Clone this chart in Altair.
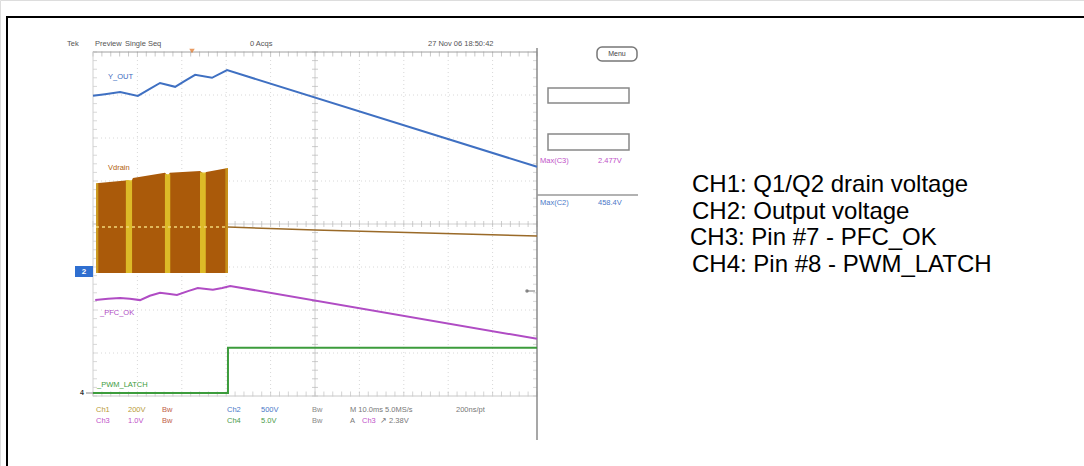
import altair as alt
import pandas as pd

# ---------------- data (time in ms, 10 ms/div ; vertical in screen divisions) ----------------
blue_t = [-50, -47.3, -43.9, -39.9, -37.2, -34.9, -31.5, -29.3, -27.0, -23.2, -19.8, 50]
blue_v = [2.98, 3.02, 3.07, 2.98, 3.14, 3.28, 3.19, 3.33, 3.47, 3.40, 3.58, 1.33]

mag_t = [-49.5, -46.6, -43.9, -41.7, -39.4, -37.2, -34.9, -32.7, -31.1, -28.6, -26.4, -24.5, -23.0, -20.9, -19.1, 50]
mag_v = [-1.77, -1.74, -1.72, -1.74, -1.77, -1.67, -1.60, -1.63, -1.65, -1.56, -1.49, -1.51, -1.53, -1.49, -1.44, -2.67]

green_t = [-50, -19.6, -19.6, 50]
green_v = [-3.93, -3.93, -2.88, -2.88]

block_t = [-49.3, -42.1, -41.4, -41.0, -33.8, -33.1, -32.7, -25.9, -25.0, -24.5, -19.6]
block_top = [0.95, 1.02, 0.98, 1.07, 1.19, 1.12, 1.19, 1.23, 1.16, 1.21, 1.30]
block_bottom = -1.14
streak_t0 = [-49.3, -42.6, -33.8, -25.9, -20.2]
streak_t1 = [-48.8, -41.2, -32.6, -24.6, -19.6]
streak_top = [0.95, 1.02, 1.16, 1.20, 1.30]
streak_op = [0.6, 0.9, 0.9, 0.9, 0.5]

brown_t = [-19.6, 0, 25, 50]
brown_v = [-0.07, -0.14, -0.21, -0.28]

trace_labels = ["Y_OUT", "Vdrain", "_PFC_OK", "_PWM_LATCH"]
header_texts = ["Tek", "Preview", "Single Seq", "0 Acqs", "27 Nov 06 18:50:42"]
meas_names = ["Max(C3)", "Max(C2)"]
meas_values = ["2.477V", "458.4V"]
status_row1 = ["Ch1", "200V", "Bw", "Ch2", "500V", "Bw", "M 10.0ms 5.0MS/s", "200ns/pt"]
status_row2 = ["Ch3", "1.0V", "Bw", "Ch4", "5.0V", "Bw", "A", "Ch3", "\u2197 2.38V"]
legend_lines = ["CH1: Q1/Q2 drain voltage", "CH2: Output voltage",
                "CH3: Pin #7 - PFC_OK", "CH4: Pin #8 - PWM_LATCH"]

grid_t = [-40, -30, -20, -10, 10, 20, 30, 40]
grid_v = [-3, -2, -1, 1, 2, 3]
minor_t = [i * 2 for i in range(-25, 26)]
minor_v = [i * 0.2 for i in range(-20, 21)]

# ---------------- layout ----------------
LEFT, RIGHT, TOP, BOT = 93, 537, 52, 396
CX, CY = (LEFT + RIGHT) / 2, (TOP + BOT) / 2
xs = alt.Scale(domain=[-50, 50], range=[LEFT, RIGHT])
ys = alt.Scale(domain=[-4, 4], range=[BOT, TOP])
one = pd.DataFrame({"k": [0]})
SF = "Liberation Sans"


def xq(f):
    return alt.X(f, type="quantitative", scale=xs, axis=None)


def yq(f):
    return alt.Y(f, type="quantitative", scale=ys, axis=None)


def txt(s, x, y, color, size=7.5, align="left", font=SF, weight="normal"):
    return alt.Chart(one).mark_text(text=s, align=align, baseline="middle", fontSize=size,
                                    color=color, font=font, fontWeight=weight).encode(
        x=alt.value(x), y=alt.value(y))


def hrule(x1, x2, y, color, w=1, dash=None):
    kw = dict(color=color, strokeWidth=w)
    if dash:
        kw["strokeDash"] = dash
    return alt.Chart(one).mark_rule(**kw).encode(x=alt.value(x1), x2=alt.value(x2), y=alt.value(y))


def vrule(x, y1, y2, color, w=1, dash=None):
    kw = dict(color=color, strokeWidth=w)
    if dash:
        kw["strokeDash"] = dash
    return alt.Chart(one).mark_rule(**kw).encode(x=alt.value(x), y=alt.value(y1), y2=alt.value(y2))


layers = []

# graticule
layers.append(alt.Chart(pd.DataFrame({"t": grid_t})).mark_rule(color="#d8d8d8", strokeDash=[1, 3]).encode(
    x=xq("t"), y=alt.value(TOP), y2=alt.value(BOT)))
layers.append(alt.Chart(pd.DataFrame({"v": grid_v})).mark_rule(color="#d8d8d8", strokeDash=[1, 3]).encode(
    y=yq("v"), x=alt.value(LEFT), x2=alt.value(RIGHT)))
layers.append(vrule(CX, TOP, BOT, "#d0d0d0"))
layers.append(hrule(LEFT, RIGHT, CY, "#d0d0d0"))
layers.append(alt.Chart(pd.DataFrame({"v": minor_v})).mark_tick(orient="horizontal", size=6, thickness=1, color="#b8b8b8").encode(
    x=alt.value(CX), y=yq("v")))
layers.append(alt.Chart(pd.DataFrame({"t": minor_t})).mark_tick(orient="vertical", size=6, thickness=1, color="#b8b8b8").encode(
    x=xq("t"), y=alt.value(CY)))
layers.append(alt.Chart(pd.DataFrame({"t": minor_t})).mark_tick(orient="vertical", size=5, thickness=1, color="#b0b0b0").encode(
    x=xq("t"), y=alt.value(TOP + 2)))
layers.append(alt.Chart(pd.DataFrame({"t": minor_t})).mark_tick(orient="vertical", size=5, thickness=1, color="#c0c0c0").encode(
    x=xq("t"), y=alt.value(BOT - 2)))
layers.append(alt.Chart(pd.DataFrame({"v": minor_v})).mark_tick(orient="horizontal", size=4, thickness=1, color="#c8c8c8").encode(
    x=alt.value(LEFT + 2), y=yq("v")))
layers.append(alt.Chart(pd.DataFrame({"v": minor_v})).mark_tick(orient="horizontal", size=4, thickness=1, color="#c8c8c8").encode(
    x=alt.value(RIGHT - 2), y=yq("v")))
layers.append(hrule(LEFT, RIGHT, TOP, "#a0a0a0"))
layers.append(hrule(LEFT, RIGHT, BOT, "#c8c8c8"))
layers.append(vrule(LEFT, TOP, BOT, "#d0d0d0"))
layers.append(vrule(RIGHT, TOP - 4, 440, "#8a8a8a", 1.5))

# CH1 switching block
bdf = pd.DataFrame({"t": block_t, "top": block_top, "bot": [block_bottom] * len(block_t)})
layers.append(alt.Chart(bdf).mark_area(color="#aa5a0a", opacity=1).encode(
    x=xq("t"), y=yq("top"), y2=alt.Y2("bot")))
sdf = pd.DataFrame({"t0": streak_t0, "t1": streak_t1, "top": streak_top,
                    "bot": [block_bottom] * len(streak_t0), "op": streak_op})
layers.append(alt.Chart(sdf).mark_rect(color="#e2c42a").encode(
    x=xq("t0"), x2=alt.X2("t1"), y=yq("top"), y2=alt.Y2("bot"),
    opacity=alt.Opacity("op:Q", scale=None, legend=None)))
layers.append(hrule(96, 228, 227, "#f2d878", 1.5, [3, 3]))

# traces
layers.append(alt.Chart(pd.DataFrame({"t": brown_t, "v": brown_v})).mark_line(color="#9a6a28", strokeWidth=1.5).encode(
    x=xq("t"), y=yq("v")))
layers.append(alt.Chart(pd.DataFrame({"t": blue_t, "v": blue_v})).mark_line(color="#3f70c2", strokeWidth=2).encode(
    x=xq("t"), y=yq("v")))
layers.append(alt.Chart(pd.DataFrame({"t": mag_t, "v": mag_v})).mark_line(color="#b04cc4", strokeWidth=2).encode(
    x=xq("t"), y=yq("v")))
layers.append(alt.Chart(pd.DataFrame({"t": green_t, "v": green_v, "i": list(range(4))})).mark_line(
    color="#3c9c3c", strokeWidth=2).encode(x=xq("t"), y=yq("v"), order=alt.Order("i:Q")))

# trace labels
layers.append(txt(trace_labels[0], 108, 77, "#3b6cc0"))
layers.append(txt(trace_labels[1], 108, 168, "#b0600c"))
layers.append(txt(trace_labels[2], 100, 313, "#b04cc4"))
layers.append(txt(trace_labels[3], 97, 385, "#3c9c3c"))

# markers
layers.append(alt.Chart(one).mark_point(shape="triangle-down", filled=True, size=30, color="#e07020").encode(
    x=alt.value(192), y=alt.value(51)))
layers.append(alt.Chart(one).mark_rect(color="#2f6fd0").encode(
    x=alt.value(75), x2=alt.value(93), y=alt.value(266), y2=alt.value(277)))
layers.append(txt("2", 84, 272, "white", 8, "center", weight="bold"))
layers.append(txt("4", 82, 393, "#333333", 7, "center", weight="bold"))
layers.append(hrule(86, 93, 393, "#888888"))
layers.append(alt.Chart(one).mark_point(shape="circle", filled=True, size=12, color="#555555").encode(
    x=alt.value(527), y=alt.value(291)))
layers.append(hrule(527, 535, 291, "#777777"))

# header
hx = [67, 95, 125, 250, 428]
for s, x in zip(header_texts, hx):
    layers.append(txt(s, x, 44, "#555555"))
layers.append(alt.Chart(one).mark_rect(fill="white", stroke="#777777", strokeWidth=1.5, cornerRadius=5).encode(
    x=alt.value(597), x2=alt.value(637), y=alt.value(47), y2=alt.value(61)))
layers.append(txt("Menu", 617, 54, "#444444", 7, "center"))

# measurement panel
layers.append(alt.Chart(one).mark_rect(fill="white", stroke="#888888", strokeWidth=1.5).encode(
    x=alt.value(548), x2=alt.value(629), y=alt.value(88), y2=alt.value(103)))
layers.append(alt.Chart(one).mark_rect(fill="white", stroke="#888888", strokeWidth=1.5).encode(
    x=alt.value(548), x2=alt.value(629), y=alt.value(134), y2=alt.value(150)))
layers.append(txt(meas_names[0], 540, 161, "#c050c8"))
layers.append(txt(meas_values[0], 598, 161, "#c050c8"))
layers.append(hrule(537, 638, 195, "#999999", 1.5))
layers.append(txt(meas_names[1], 540, 203, "#4a78c8"))
layers.append(txt(meas_values[1], 598, 203, "#4a78c8"))

# status rows
r1x = [96, 128, 162, 227, 261, 312, 350, 456]
r1c = ["#b89a3a", "#b89a3a", "#c0604a", "#4a78c8", "#4a78c8", "#888888", "#777777", "#777777"]
for s, x, c in zip(status_row1, r1x, r1c):
    layers.append(txt(s, x, 410, c))
r2x = [96, 128, 162, 227, 261, 312, 350, 362, 380]
r2c = ["#c050c8", "#c050c8", "#c0604a", "#4a9a4a", "#4a9a4a", "#888888", "#777777", "#c050c8", "#777777"]
for s, x, c in zip(status_row2, r2x, r2c):
    layers.append(txt(s, x, 421, c))

# legend text on the right
lx = [692, 692, 690, 692]
ly = [185, 211.5, 238, 264.5]
for s, x, y in zip(legend_lines, lx, ly):
    layers.append(txt(s, x, y, "black", 24, "left", font="Liberation Sans"))

# outer frame
layers.append(hrule(6, 1084, 17, "black", 2))
layers.append(vrule(7, 16, 466, "black", 2))

chart = alt.layer(*layers).properties(
    width=1084, height=466, autosize="none", padding=0
).configure_view(strokeWidth=0).configure(background="white")

chart.save("out.html", embed_options={"renderer": "svg", "actions": False})
